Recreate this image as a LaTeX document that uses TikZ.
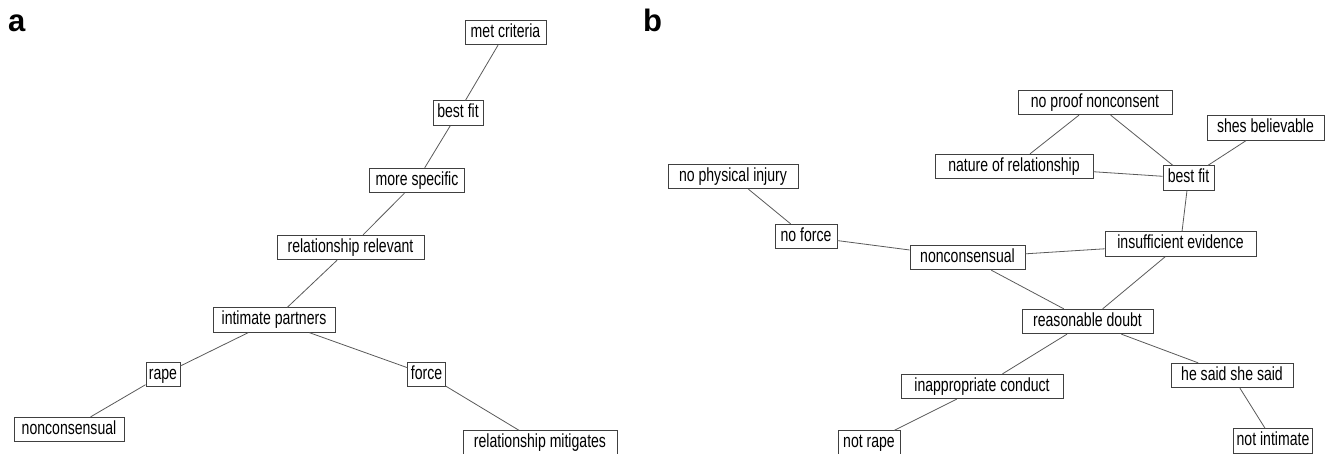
\documentclass[tikz,border=0pt]{standalone}
\usepackage{fontspec}
\setmainfont{Liberation Sans}[FakeStretch=0.74]
\newfontfamily\panelfont{Liberation Sans}
\begin{document}
\begin{tikzpicture}[x=1pt, y=-1pt,
  term/.style={draw=black!75, fill=white, line width=0.8pt, inner xsep=3pt, inner ysep=0pt,
    minimum width=#1pt, minimum height=24.5pt, text height=13.2pt, text depth=3.9pt,
    font=\fontsize{19}{22}\selectfont},
  tie/.style={draw=black!65, line width=0.8pt},
  panel/.style={anchor=base west, inner sep=0pt, font=\fontsize{31}{31}\panelfont\bfseries}]
\useasboundingbox (0,0) rectangle (1326,454);
\node[panel] (pa) at (8,32) {a};
\node[panel] (pb) at (643,32) {b};
\node[term=81] (mc) at (505.5,32.5) {met criteria};
\node[term=50] (bfa) at (458,113) {best fit};
\node[term=95] (ms) at (417,180.5) {more specific};
\node[term=147] (rr) at (350.5,247.5) {relationship relevant};
\node[term=122] (ip) at (274,320) {intimate partners};
\node[term=34] (rp) at (163,374.5) {rape};
\node[term=110] (nca) at (69,429.5) {nonconsensual};
\node[term=37] (fo) at (426.5,374.5) {force};
\node[term=154] (rm) at (540,443) {relationship mitigates};
\node[term=130] (npi) at (733,176.5) {no physical injury};
\node[term=62] (nf) at (806,236.5) {no force};
\node[term=115] (ncb) at (967.5,257.5) {nonconsensual};
\node[term=151] (ie) at (1180.5,244) {insufficient evidence};
\node[term=51] (bfb) at (1188.5,178) {best fit};
\node[term=158] (nor) at (1014,166.5) {nature of relationship};
\node[term=154] (npn) at (1095,102.5) {no proof nonconsent};
\node[term=117] (sb) at (1265.5,128) {shes believable};
\node[term=131] (rd) at (1087.5,321.5) {reasonable doubt};
\node[term=162] (ic) at (982,386.5) {inappropriate conduct};
\node[term=122] (hs) at (1232,375.5) {he said she said};
\node[term=62] (nr) at (869,443) {not rape};
\node[term=78] (ni) at (1273,441) {not intimate};
\foreach \u/\v in {mc/bfa, bfa/ms, ms/rr, rr/ip, ip/rp, ip/fo, rp/nca, fo/rm,
  npi/nf, nf/ncb, ncb/ie, ncb/rd, ie/rd, ie/bfb, bfb/nor, bfb/npn, bfb/sb, npn/nor,
  rd/ic, rd/hs, ic/nr, hs/ni}
  \draw[tie] (\u) -- (\v);
\end{tikzpicture}
\end{document}
